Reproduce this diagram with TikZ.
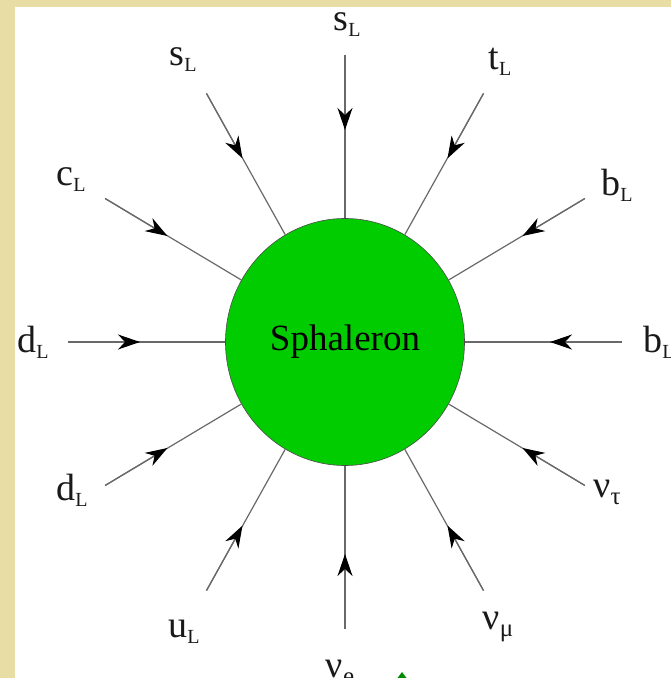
\documentclass[tikz,border=0pt]{standalone}
\usepackage{fontspec}
\setmainfont{Liberation Serif}
\usetikzlibrary{arrows.meta,calc,shapes.geometric}
\definecolor{beige}{RGB}{232,221,165}
\definecolor{sphgreen}{RGB}{0,204,0}
\definecolor{linegray}{RGB}{105,105,105}
\newcommand{\lab}[2]{#1\raisebox{-6pt}{\fontsize{20}{20}\selectfont #2}}
\newcommand{\glab}[2]{#1\raisebox{-7pt}{\fontsize{25}{25}\selectfont #2}}
\tikzset{
  leg/.style={draw=linegray, line width=1.2pt},
  arr/.style={leg, -{Stealth[length=22pt,width=15pt,inset=7pt,black]}},
  lbl/.style={font=\fontsize{38}{38}\selectfont, inner sep=0pt, text=black!90},
}
\begin{document}
\begin{tikzpicture}
\useasboundingbox (0pt,0pt) rectangle (671pt,678pt);
\fill[white] (0pt,0pt) rectangle (671pt,678pt);
\fill[beige] (0pt,0pt) rectangle (15pt,678pt);
\fill[beige] (0pt,671pt) rectangle (671pt,678pt);
\coordinate (C) at (345pt,336pt);
\node[ellipse, draw=black!70, line width=0.6pt, fill=sphgreen, minimum width=239pt, minimum height=247pt, inner sep=0pt,
      font=\fontsize{37}{37}\selectfont] (sph) at (C) {Sphaleron};
\foreach \a/\n in {0/1,30/2,60/3,90/4,120/5,150/6,180/7,210/8,240/9,270/10,300/11,330/12}{
  \coordinate (o\n) at ($(C)+(\a:277pt and 287pt)$);
  \coordinate (t\n) at ($(C)+(\a:205pt and 212pt)$);
  \draw[leg] (o\n) -- (sph);
  \draw[arr] (o\n) -- (t\n);
}
\node[lbl] (l1) at (659pt,336pt) {\lab{b}{L}};
\node[lbl] (l2) at (617pt,493pt) {\lab{b}{L}};
\node[lbl] (l3) at (500pt,616pt) {\lab{t}{L}};
\node[lbl] (l4) at (347pt,653pt) {\lab{s}{L}};
\node[lbl] (l5) at (183pt,618pt) {\lab{s}{L}};
\node[lbl] (l6) at (71pt,498pt) {\lab{c}{L}};
\node[lbl] (l7) at (33pt,336pt) {\lab{d}{L}};
\node[lbl] (l8) at (72pt,188pt) {\lab{d}{L}};
\node[lbl] (l9) at (184pt,46pt) {\lab{u}{L}};
\node[lbl] (l10) at (340pt,6pt) {\glab{ν}{e}};
\node[lbl] (l11) at (498pt,51pt) {\glab{ν}{μ}};
\node[lbl] (l12) at (607pt,186pt) {\glab{ν}{τ}};
\fill[green!55!black] (402pt,6pt) -- (396pt,-2pt) -- (408pt,-2pt) -- cycle;
\end{tikzpicture}
\end{document}
